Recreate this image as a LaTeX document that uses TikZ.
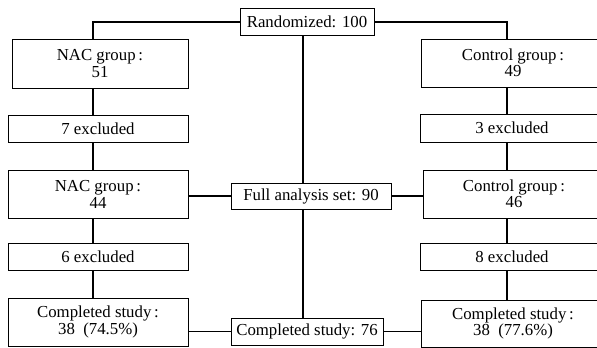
\documentclass[tikz,border=0pt]{standalone}
\usepackage{fontspec}
\setmainfont{Liberation Serif}
\usepackage{tikz}
\usetikzlibrary{positioning}

\begin{document}
\begin{tikzpicture}[
        x=1pt, y=-1pt,
        box/.style={
            rectangle,
            draw,
            line width=0.7pt,
            inner sep=0pt,
            align=center,
            font=\fontsize{16.8}{16.5}\selectfont
        },
        wide/.style={box, minimum width=180pt, minimum height=48pt},
        slim/.style={box, minimum width=180pt, minimum height=27pt},
        link/.style={line width=1.6pt}
    ]

    \clip (0,0) rectangle (597,348);

    % column lines
    \coordinate (lcol) at (93,0);
    \coordinate (mcol) at (303,0);
    \coordinate (rcol) at (507,0);

    \node[box, minimum width=134pt, minimum height=27pt] (rand) at (307,22) {Randomized: 100};

    \node[wide, minimum width=176pt, minimum height=49pt] (nac1) at (100,63.5) {NAC group\,:\\51};
    \node[slim] (exc7) at (98,129) {7 excluded};
    \node[wide] (nac2) at (98,194.5) {NAC group\,:\\44};
    \node[slim] (exc6) at (98,256.5) {6 excluded};
    \node[wide] (comp1) at (98,322) {Completed study\,:\\38\enspace(74.5\%)};

    \node[wide, minimum width=184pt] (ctl1) at (513,63) {Control group\,:\\49};
    \node[slim, minimum width=184pt, minimum height=28pt] (exc3) at (512,128) {3 excluded};
    \node[wide, minimum width=182pt] (ctl2) at (514,194) {Control group\,:\\46};
    \node[slim, minimum width=184pt] (exc8) at (512,256.5) {8 excluded};
    \node[wide, minimum width=184pt, minimum height=47pt] (comp2) at (513,323.5) {Completed study\,:\\38\enspace(77.6\%)};

    \node[box, minimum width=160pt, minimum height=26pt] (full) at (311,196) {Full analysis set: 90};
    \node[box, minimum width=152pt, minimum height=27pt] (comp76) at (307,331.5) {Completed study: 76};

    \draw[link] (rand.west) -| (nac1.north -| lcol);
    \draw[link] (rand.east) -| (ctl1.north -| rcol);
    \draw[link] (rand.south -| mcol) -- (full.north -| mcol);
    \draw[link] (full.south -| mcol) -- (comp76.north -| mcol);

    \draw[link] (nac1.south -| lcol) -- (exc7.north -| lcol);
    \draw[link] (exc7.south -| lcol) -- (nac2.north -| lcol);
    \draw[link] (nac2.south -| lcol) -- (exc6.north -| lcol);
    \draw[link] (exc6.south -| lcol) -- (comp1.north -| lcol);

    \draw[link] (ctl1.south -| rcol) -- (exc3.north -| rcol);
    \draw[link] (exc3.south -| rcol) -- (ctl2.north -| rcol);
    \draw[link] (ctl2.south -| rcol) -- (exc8.north -| rcol);
    \draw[link] (exc8.south -| rcol) -- (comp2.north -| rcol);

    \draw[link] (full.west -| nac2.east) -- (full.west);
    \draw[link] (full.east) -- (full.east -| ctl2.west);
    \draw[link] (comp76.west -| comp1.east) -- (comp76.west);
    \draw[link] (comp76.east) -- (comp76.east -| comp2.west);

\end{tikzpicture}
\end{document}
